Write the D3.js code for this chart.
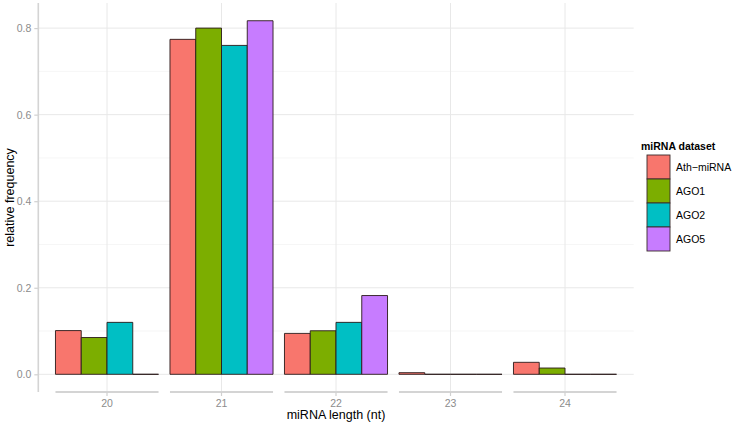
<!DOCTYPE html>
<html>
<head>
<meta charset="utf-8">
<script src="https://cdnjs.cloudflare.com/ajax/libs/d3/7.8.5/d3.min.js"></script>
<style>
  body { margin: 0; background: #fff; }
  svg { display: block; font-family: "Liberation Sans", Arial, sans-serif; }
</style>
</head>
<body>
<div class="chart"></div>
<script>
var lengths = ["20", "21", "22", "23", "24"]
var datasets = ["Ath\u2212miRNA", "AGO1", "AGO2", "AGO5"]
var colors = ["#F8766D", "#7CAE00", "#00BFC4", "#C77CFF"]
var athValues = [0.101, 0.774, 0.0945, 0.0037, 0.0277]
var ago1Values = [0.085, 0.800, 0.1006, 0.0, 0.0145]
var ago2Values = [0.120, 0.760, 0.120, 0.0, 0.0]
var ago5Values = [0.0, 0.817, 0.182, 0.0, 0.0]
var yTicks = [0, 0.2, 0.4, 0.6, 0.8]
var yMinor = [0.1, 0.3, 0.5, 0.7]

var width = 732, height = 424
var panel = {left: 38.3, right: 633.7, top: 3, bottom: 392}

var series = [athValues, ago1Values, ago2Values, ago5Values]
var data = []
lengths.forEach((len, i) => {
    datasets.forEach((ds, j) => {
        data.push({len: len, ds: ds, value: series[j][i], color: colors[j]})
    })
})

var x = d3.scaleBand().domain(lengths).range([panel.left, panel.right])
    .paddingInner(0.1).paddingOuter(0.15)
var xInner = d3.scaleBand().domain(datasets).range([0, x.bandwidth()])
var y = d3.scaleLinear().domain([-0.0409, 0.858]).range([panel.bottom, panel.top])

var svg = d3.select(".chart").append("svg")
    .attr("width", width)
    .attr("height", height)

// grid
var grid = svg.append("g")
grid.selectAll(".minor").data(yMinor).enter().append("line")
    .attr("x1", panel.left).attr("x2", panel.right)
    .attr("y1", d => y(d)).attr("y2", d => y(d))
    .attr("stroke", "#f4f4f4").attr("stroke-width", 0.8)
grid.selectAll(".major").data(yTicks).enter().append("line")
    .attr("x1", panel.left).attr("x2", panel.right)
    .attr("y1", d => y(d)).attr("y2", d => y(d))
    .attr("stroke", "#e8e8e8").attr("stroke-width", 1)
grid.selectAll(".vmajor").data(lengths).enter().append("line")
    .attr("x1", d => x(d) + x.bandwidth() / 2).attr("x2", d => x(d) + x.bandwidth() / 2)
    .attr("y1", panel.top).attr("y2", panel.bottom)
    .attr("stroke", "#e8e8e8").attr("stroke-width", 1)

// bars drawn as paths so zero-height bars still show their outline
function barPath(d) {
    var x0 = x(d.len) + xInner(d.ds), x1 = x0 + xInner.bandwidth()
    var p = d3.path()
    p.moveTo(x0, y(0))
    p.lineTo(x0, y(d.value))
    p.lineTo(x1, y(d.value))
    p.lineTo(x1, y(0))
    p.closePath()
    return p.toString()
}
svg.append("g").selectAll("path").data(data).enter().append("path")
    .attr("d", barPath)
    .attr("fill", d => d.color)
    .attr("stroke", "#2a1a1a")
    .attr("stroke-width", 0.9)

// y axis
var yAxis = d3.axisLeft(y).tickValues(yTicks).tickFormat(d3.format(".1f"))
    .tickSize(4).tickPadding(3)
var gy = svg.append("g")
    .attr("transform", "translate(" + panel.left + ",0)")
    .call(yAxis)
gy.select(".domain").remove()
gy.selectAll(".tick line").attr("stroke", "#d0d0d0").attr("stroke-width", 1.2)
gy.selectAll(".tick text").attr("fill", "#8c8c8c").style("font-size", "10.5px")
svg.append("line")
    .attr("x1", panel.left).attr("x2", panel.left)
    .attr("y1", panel.top).attr("y2", panel.bottom)
    .attr("stroke", "#d4d4d4").attr("stroke-width", 1.6)

// x axis: one segment per group
var gx = svg.append("g")
gx.selectAll(".seg").data(lengths).enter().append("line")
    .attr("x1", d => x(d)).attr("x2", d => x(d) + x.bandwidth())
    .attr("y1", panel.bottom).attr("y2", panel.bottom)
    .attr("stroke", "#d4d4d4").attr("stroke-width", 1.8)
gx.selectAll(".tk").data(lengths).enter().append("line")
    .attr("x1", d => x(d) + x.bandwidth() / 2).attr("x2", d => x(d) + x.bandwidth() / 2)
    .attr("y1", panel.bottom).attr("y2", panel.bottom + 4)
    .attr("stroke", "#d0d0d0").attr("stroke-width", 1.2)
gx.selectAll("text").data(lengths).enter().append("text")
    .attr("x", d => x(d) + x.bandwidth() / 2)
    .attr("y", panel.bottom + 15)
    .attr("text-anchor", "middle")
    .attr("fill", "#8c8c8c")
    .style("font-size", "10.5px")
    .text(d => d)

// axis titles
svg.append("text")
    .attr("x", (panel.left + panel.right) / 2)
    .attr("y", 419)
    .attr("text-anchor", "middle")
    .style("font-size", "12.5px")
    .text("miRNA length (nt)")
svg.append("text")
    .attr("transform", "translate(14," + ((panel.top + panel.bottom) / 2) + ") rotate(-90)")
    .attr("text-anchor", "middle")
    .style("font-size", "12.5px")
    .text("relative frequency")

// legend
var legend = svg.append("g").attr("transform", "translate(641,0)")
legend.append("text")
    .attr("x", 0).attr("y", 150)
    .style("font-size", "10.5px")
    .style("font-weight", "bold")
    .text("miRNA dataset")
var items = legend.selectAll(".item").data(datasets).enter().append("g")
    .attr("transform", (d, i) => "translate(6," + (155 + i * 24) + ")")
items.append("rect")
    .attr("width", 23).attr("height", 24)
    .attr("fill", (d, i) => colors[i])
    .attr("stroke", "#3a2a2a").attr("stroke-width", 0.9)
items.append("text")
    .attr("x", 29).attr("y", 16)
    .style("font-size", "10.5px")
    .text(d => d)
</script>
</body>
</html>
